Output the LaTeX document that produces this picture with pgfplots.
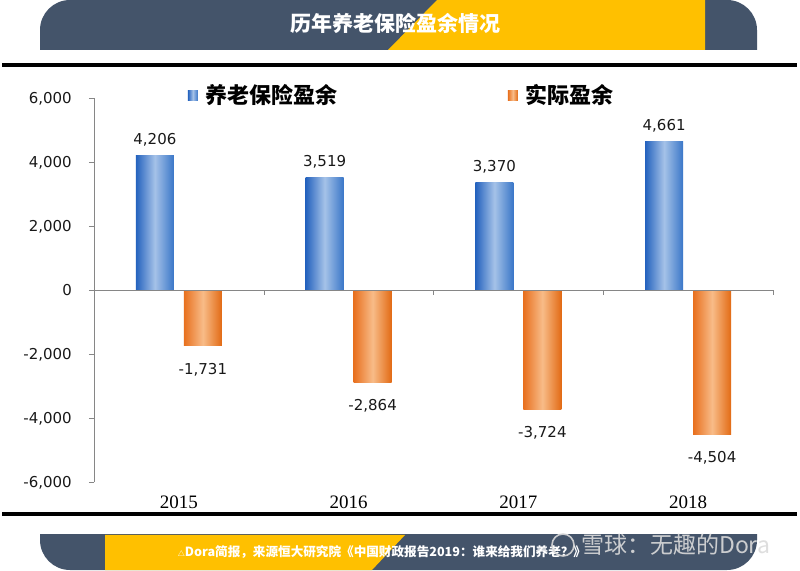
\documentclass[border=0pt]{standalone}
\usepackage{fontspec}
\setmainfont{DejaVu Sans}
\newfontfamily\cjk{Noto Sans CJK SC}
\newfontfamily\tnr{Liberation Serif}
\usepackage{pgfplots}
\pgfplotsset{compat=1.18}
\definecolor{slate}{HTML}{44546A}
\definecolor{gold}{HTML}{FFC000}
\definecolor{bL}{RGB}{36,98,190}
\definecolor{bM}{RGB}{165,194,232}
\definecolor{bR}{RGB}{58,118,200}
\definecolor{oL}{RGB}{232,112,30}
\definecolor{oM}{RGB}{248,188,136}
\definecolor{oR}{RGB}{226,106,20}
\definecolor{axgray}{RGB}{134,134,134}
\pgfplotsset{
  blueb/.style={ybar, bar width=38pt, bar shift=-24pt, draw=none,
    left color=bL, right color=bR, middle color=bM,
    every node near coord/.append style={anchor=south, yshift=9pt, xshift=-24pt}},
  orangeb/.style={ybar, bar width=38pt, bar shift=24pt, draw=none,
    left color=oL, right color=oR, middle color=oM,
    every node near coord/.append style={anchor=north, yshift=-17pt, xshift=24pt}},
}
\begin{document}
\begin{tikzpicture}[x=1pt,y=1pt]
\useasboundingbox (0,0) rectangle (800,570);
\fill[white] (0,0) rectangle (800,570);
% header band
\begin{scope}
\clip (0,520) rectangle (800,570);
\fill[slate, rounded corners=30pt] (40,470) rectangle (757,570);
\end{scope}
\fill[gold] (388,520) -- (437,570) -- (705,570) -- (705,520) -- cycle;
\node[text=white, font=\cjk\bfseries\fontsize{21}{24}\selectfont] at (395,547) {历年养老保险盈余情况};
% black rules
\fill[black] (2,503) rectangle (797,507);
\fill[black] (2,54) rectangle (797,58);
% footer band
\begin{scope}
\clip (0,0) rectangle (800,35);
\fill[slate, rounded corners=30pt] (40,0) rectangle (757,80);
\fill[gold] (105,0) -- (105,35) -- (405,35) -- (372,0) -- cycle;
\end{scope}
\node[text=white, font=\cjk\bfseries\fontsize{12.6}{14}\selectfont] at (382,18) {{\fontsize{7}{8}\selectfont △}Dora简报，来源恒大研究院《中国财政报告2019：谁来给我们养老？》};
% watermark
\draw[gray!30, line width=1.6pt, opacity=0.9] (563,25) circle (11);
\node[text=gray!28, opacity=0.9, font=\cjk\fontsize{23}{26}\selectfont, anchor=west, inner sep=0pt] at (581,25) {雪球：无趣的Dora};

\begin{scope}[shift={(94,87.5)}]
\begin{axis}[
  scale only axis,
  width=679pt, height=384pt,
  xmin=-0.5, xmax=3.5, ymin=-6000, ymax=6000,
  enlargelimits=false,
  axis y line*=left, axis x line*=bottom,
  x axis line style={draw=none},
  y axis line style={draw=axgray},
  xtick={0,1,2,3}, xticklabels={2015,2016,2017,2018},
  xtick style={draw=none},
  ytick={-6000,-4000,-2000,0,2000,4000,6000},
  yticklabels={{-6,000},{-4,000},{-2,000},{0},{2,000},{4,000},{6,000}},
  ytick style={draw=axgray},
  tick align=outside, major tick length=5pt,
  yticklabel style={font=\fontsize{15}{18}\selectfont, text=black!90, inner sep=0pt, xshift=-17pt},
  xticklabel style={font=\tnr\fontsize{19}{22}\selectfont, text=black, inner sep=0pt, yshift=-8pt},
  nodes near coords,
  point meta=explicit symbolic,
  every node near coord/.append style={font=\fontsize{15}{18}\selectfont, text=black!90, inner sep=0pt},
  legend style={at={(0.138,1.009)}, anchor=west, draw=none, fill=none, inner sep=0pt,
     font=\cjk\bfseries\fontsize{22}{24}\selectfont, legend columns=2,
     /tikz/every even column/.append style={column sep=168pt}},
  legend image code/.code={\fill[#1] (0pt,-5pt) rectangle (10pt,5pt); \path (0pt,0pt) -- (16pt,0pt);},
  clip=false,
]
\addplot[blueb] table[meta=lab] {
x y lab
0 4206 4,206
};
\addlegendentry{养老保险盈余}
\addplot[orangeb] table[meta=lab] {
x y lab
0 -1731 -1,731
};
\addlegendentry{实际盈余}
\addplot[blueb, forget plot] table[meta=lab] {
x y lab
1 3519 3,519
};
\addplot[blueb, forget plot] table[meta=lab] {
x y lab
2 3370 3,370
};
\addplot[blueb, forget plot] table[meta=lab] {
x y lab
3 4661 4,661
};
\addplot[orangeb, forget plot] table[meta=lab] {
x y lab
1 -2864 -2,864
};
\addplot[orangeb, forget plot] table[meta=lab] {
x y lab
2 -3724 -3,724
};
\addplot[orangeb, forget plot] table[meta=lab] {
x y lab
3 -4504 -4,504
};
\draw[axgray] (axis cs:-0.5,0) -- (axis cs:3.5,0);
\pgfplotsinvokeforeach{0.5,1.5,2.5,3.5}{\draw[axgray] (axis cs:#1,0) -- ++(0pt,-5pt);}
\end{axis}
\end{scope}
\end{tikzpicture}
\end{document}
